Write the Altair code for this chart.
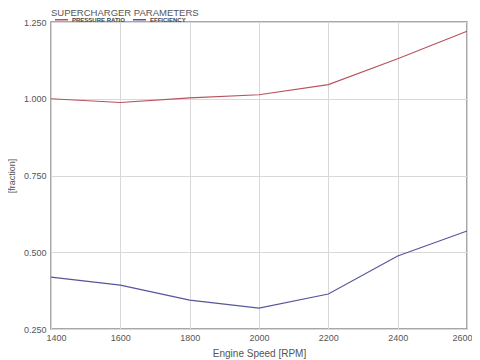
import altair as alt
import pandas as pd

rpm = [1400, 1600, 1800, 2000, 2200, 2400, 2600]
pressure_ratio = [1.000, 0.988, 1.003, 1.013, 1.046, 1.130, 1.220]
efficiency = [0.419, 0.393, 0.344, 0.318, 0.364, 0.488, 0.569]
series_names = ["PRESSURE RATIO", "EFFICIENCY"]
series_colors = ["#b9525c", "#55559a"]
x_ticks = [1400, 1600, 1800, 2000, 2200, 2400, 2600]
y_ticks = [0.25, 0.5, 0.75, 1.0, 1.25]

rows = []
for r, p, e in zip(rpm, pressure_ratio, efficiency):
    rows.append({"rpm": r, "value": p, "series": series_names[0]})
    rows.append({"rpm": r, "value": e, "series": series_names[1]})
df = pd.DataFrame(rows)

FONT = "Liberation Sans"

chart = alt.Chart(df).mark_line(strokeWidth=1.1).encode(
    x=alt.X("rpm:Q", scale=alt.Scale(domain=[1400, 2600], nice=False),
            axis=alt.Axis(values=x_ticks, format="d", title="Engine Speed [RPM]",
                          grid=True, ticks=False, domain=False, labelPadding=4,
                          labelFlush=True, labelFlushOffset=5, titlePadding=6,
                          labelFontSize=9, titleFontSize=10)),
    y=alt.Y("value:Q", scale=alt.Scale(domain=[0.25, 1.25], nice=False, zero=False),
            axis=alt.Axis(values=y_ticks, format=".3f", title="[fraction]",
                          grid=True, ticks=False, domain=False, labelPadding=5,
                          labelFlush=False, titlePadding=7, labelFontSize=9,
                          titleFontSize=9)),
    color=alt.Color("series:N",
                    scale=alt.Scale(domain=series_names, range=series_colors),
                    sort=series_names,
                    legend=alt.Legend(title=None, orient="none", legendX=3, legendY=-10,
                                      direction="horizontal", symbolType="stroke",
                                      symbolSize=169, symbolStrokeWidth=1.5,
                                      labelFontSize=6, labelFontWeight="bold",
                                      labelFont=FONT, labelColor="#444",
                                      labelOffset=3, columnPadding=5,
                                      padding=0)),
).properties(
    width=416, height=307,
    title=alt.TitleParams("SUPERCHARGER PARAMETERS", anchor="start", frame="group",
                          fontSize=9.5, fontWeight="normal", font=FONT,
                          color="#555", offset=2, dy=7.3),
    padding={"left": 43, "top": 14, "right": 5, "bottom": 30},
    autosize=alt.AutoSizeParams(type="none"),
).configure_view(
    stroke="#8a8a8a", strokeWidth=1.5
).configure_axis(
    labelFont=FONT, titleFont=FONT,
    labelColor="#555", titleColor="#555", titleFontWeight="normal",
    gridColor="#d8d8d8", gridWidth=1
)

chart.save("out.html", embed_options={"renderer": "svg", "actions": False})
